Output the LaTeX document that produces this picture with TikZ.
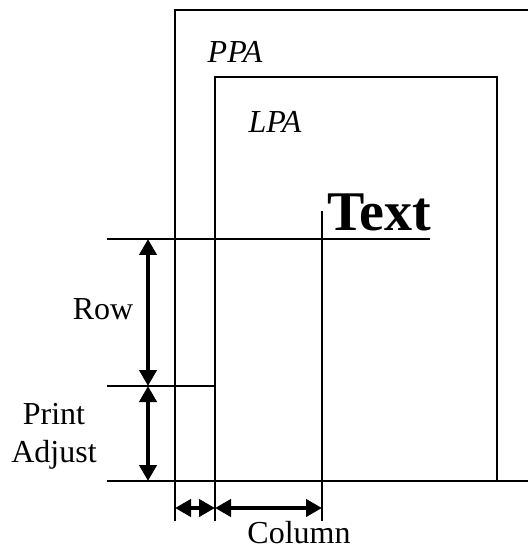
\documentclass[tikz,border=0pt]{standalone}
\usepackage{fontspec}
\setmainfont{Liberation Serif}
\usetikzlibrary{arrows.meta}

\tikzset{
  thinline/.style={line width=1pt},
  dimarrow/.style={line width=2pt, {Triangle[length=8pt,width=8.5pt]}-{Triangle[length=8pt,width=8.5pt]}},
  lbl/.style={draw=none, inner sep=0pt, font=\fontsize{16}{19}\selectfont}
}

\begin{document}
\begin{tikzpicture}[x=0.5pt, y=-0.5pt]
             \useasboundingbox (0,0) rectangle (528,550);

             % page areas
             \draw[thinline] (175,521) -- (175,10) -- (528,10);
             \draw[thinline] (215,521) -- (215,77) -- (497,77) -- (497,481);
             \node[lbl, font=\fontsize{16}{19}\selectfont\itshape] (ppa) at (235,52) {PPA};
             \node[lbl, font=\fontsize{16}{19}\selectfont\itshape] (lpa) at (275,122) {LPA};

             % reference lines
             \draw[thinline] (107,481) -- (528,481);
             \draw[thinline] (107,239) -- (430,239);
             \draw[thinline] (107,386) -- (215,386);
             \draw[thinline] (322,211) -- (322,521);
             \node[lbl, anchor=base west, font=\fontsize{28}{32}\bfseries] (text) at (327,231) {Text};

             % row and print adjust
             \coordinate (rowtop) at (148,239);
             \coordinate (rowbot) at (148,386);
             \coordinate (adjbot) at (148,481);
             \draw[dimarrow] (rowtop) -- (rowbot);
             \draw[dimarrow] (rowbot) -- (adjbot);
             \node[lbl] (row) at (103,309) {Row};
             \node[lbl, align=center] (adjust) at (54,436) {Print\\Adjust};

             % column
             \coordinate (colppa) at (175,508);
             \coordinate (collpa) at (215,508);
             \coordinate (coltext) at (322,508);
             \draw[dimarrow] (colppa) -- (collpa);
             \draw[dimarrow] (collpa) -- (coltext);
             \node[lbl, anchor=base] (column) at (299,543) {Column};

             \end{tikzpicture}
\end{document}
